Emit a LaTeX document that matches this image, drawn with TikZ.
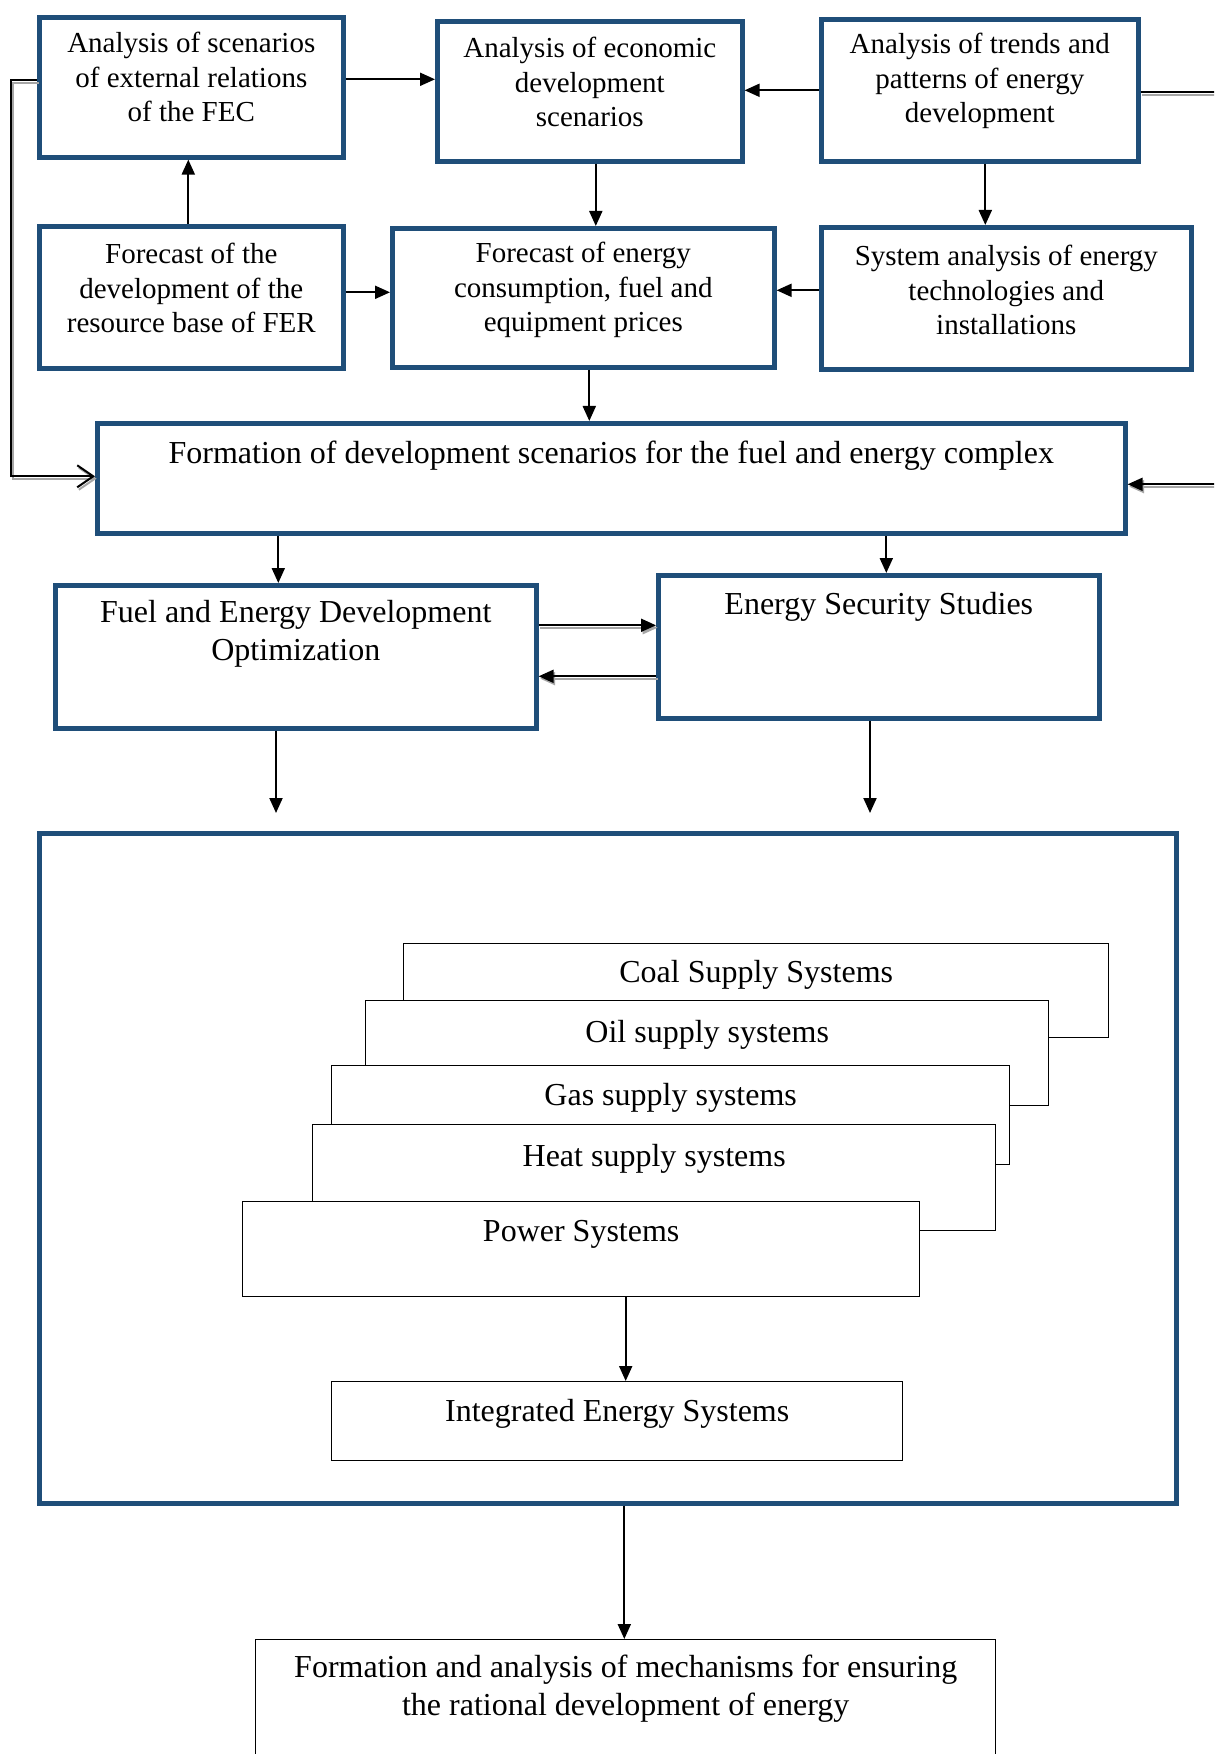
\documentclass[tikz,border=0pt]{standalone}
\usepackage{fontspec}
\setmainfont{Liberation Serif}
\usetikzlibrary{arrows.meta}
\definecolor{fecblue}{RGB}{31,78,121}
\tikzset{
>={Triangle[width=6.5pt,length=7.5pt]},
	bluebox/.style={
		rectangle,
		sharp corners,
		fill=white,
		draw=fecblue, line width=2.3pt,
		anchor=north west,
		inner sep=0pt},
	thinbox/.style={
		rectangle,
		sharp corners,
		fill=white,
		draw=black, line width=0.7pt,
		anchor=north west,
		inner sep=0pt},
	smalltext/.style={align=center, inner sep=0pt, font=\fontsize{14.5}{17.4}\selectfont},
	bigtext/.style={align=center, inner sep=0pt, yshift=-1.5pt, font=\fontsize{16}{19}\selectfont},
	link/.style={->, line width=1pt},
	shadowlink/.style={link, preaction={draw=black!35, line width=1pt, transform canvas={xshift=0.8pt,yshift=-1.2pt}}}
}
\begin{document}
\begin{tikzpicture}[x=0.5pt, y=-0.5pt]
\fill[white] (0,0) rectangle (1214,1754);
\path[use as bounding box] (0,0) rectangle (1214,1754);
\clip (0,0) rectangle (1214,1754);
% top two rows
\node[bluebox, minimum width=152pt, minimum height=70pt] (scen) at (37,15) {};
\node[smalltext] (scentext) at (scen |- 0,77) {Analysis of scenarios\\of external relations\\of the FEC};
\node[bluebox, minimum width=152.5pt, minimum height=70pt] (econ) at (435,19) {};
\node[smalltext] (econtext) at (econ |- 0,82) {Analysis of economic\\development\\scenarios};
\node[bluebox, minimum width=158.5pt, minimum height=71pt] (trend) at (819,17) {};
\node[smalltext] (trendtext) at (trend |- 0,81) {Analysis of trends and\\patterns of energy\\development};
\node[bluebox, minimum width=152pt, minimum height=71pt] (fer) at (37,224) {};
\node[smalltext] (fertext) at (fer |- 0,288) {Forecast of the\\development of the\\resource base of FER};
\node[bluebox, minimum width=191pt, minimum height=69.5pt] (cons) at (390,226) {};
\node[smalltext] (constext) at (cons |- 0,290) {Forecast of energy\\consumption, fuel and\\equipment prices};
\node[bluebox, minimum width=185pt, minimum height=71pt] (tech) at (819,225) {};
\node[smalltext] (techtext) at (tech |- 0,290) {System analysis of energy\\technologies and\\installations};
% scenarios
\node[bluebox, minimum width=514pt, minimum height=55pt] (form) at (95,421) {};
\node[bigtext] (formtext) at (form |- 0,453) {Formation of development scenarios for the fuel and energy complex};
\node[bluebox, minimum width=240.5pt, minimum height=71.5pt] (opt) at (53,583) {};
\node[bigtext] (opttext) at (opt |- 0,631) {Fuel and Energy Development\\Optimization};
\node[bluebox, minimum width=220.5pt, minimum height=71.5pt] (sec) at (656,573) {};
\node[bigtext] (sectext) at (sec |- 0,604) {Energy Security Studies};
\coordinate (optout) at (276,813);
\coordinate (secout) at (870,813);
% systems
\node[bluebox, minimum width=568.5pt, minimum height=335pt] (big) at (37,831) {};
\node[thinbox, minimum width=352.5pt, minimum height=47pt] (coal) at (403,943) {};
\node[bigtext] (coaltext) at (coal |- 0,972) {Coal Supply Systems};
\node[thinbox, minimum width=341.5pt, minimum height=52.5pt] (oil) at (365,1000) {};
\node[bigtext] (oiltext) at (oil |- 0,1032) {Oil supply systems};
\node[thinbox, minimum width=339pt, minimum height=49.5pt] (gas) at (331,1065) {};
\node[bigtext] (gastext) at (gas |- 0,1095) {Gas supply systems};
\node[thinbox, minimum width=341.5pt, minimum height=53pt] (heat) at (312,1124) {};
\node[bigtext] (heattext) at (heat |- 0,1156) {Heat supply systems};
\node[thinbox, minimum width=338.5pt, minimum height=47.5pt] (power) at (242,1201) {};
\node[bigtext] (powertext) at (power |- 0,1231) {Power Systems};
\node[thinbox, minimum width=285.5pt, minimum height=39.5pt] (integ) at (331,1381) {};
\node[bigtext] (integtext) at (integ |- 0,1411) {Integrated Energy Systems};
\node[thinbox, minimum width=370pt, minimum height=80.5pt] (mech) at (255,1639) {};
\node[bigtext] (mechtext) at (mech |- 0,1686) {Formation and analysis of mechanisms for ensuring\\the rational development of energy};
\coordinate (lrim) at (11,0);
\coordinate (rrim) at (1240,0);
% arrows
\draw[link] ([xshift=-1.5pt]fer.north) -- ([xshift=-1.5pt]fer.north |- scen.south);
\draw[link] ([yshift=4pt]scen.east) -- ([yshift=4pt]econ.west |- scen.east);
\draw[link] (trend.west) -- (econ.east |- trend.west);
\draw[link] ([xshift=3pt]econ.south) -- ([xshift=3pt]econ.south |- cons.north);
\draw[link] ([yshift=2.5pt]fer.east) -- ([yshift=2.5pt]cons.west |- fer.east);
\draw[link] ([yshift=4pt]tech.west) -- ([yshift=4pt]cons.east |- tech.west);
\draw[link] ([xshift=2.75pt]trend.south) -- ([xshift=2.75pt]trend.south |- tech.north);
\draw[link] ([xshift=3pt]cons.south) -- ([xshift=3pt]cons.south |- form.north);
\draw[shadowlink, -{Straight Barb[length=8pt,width=11pt]}] ([yshift=3.5pt]scen.west) -- ([yshift=3.5pt]lrim |- scen.west) -- ([yshift=1pt]lrim |- form.west) -- ([yshift=1pt]form.west);
\draw[shadowlink] ([yshift=-1pt]trend.east) -- ([yshift=-1pt]rrim |- trend.east) -- ([yshift=-3pt]rrim |- form.east) -- ([yshift=-3pt]form.east);
\draw[link] ([xshift=-8.75pt]opt.north |- form.south) -- ([xshift=-8.75pt]opt.north);
\draw[link] ([xshift=3.75pt]sec.north |- form.south) -- ([xshift=3.75pt]sec.north);
\draw[shadowlink] ([yshift=15.75pt]opt.east) -- ([yshift=15.75pt]sec.west |- opt.east);
\draw[shadowlink] ([yshift=-14.75pt]sec.west) -- ([yshift=-14.75pt]opt.east |- sec.west);
\draw[link] (opt.south -| optout) -- (optout);
\draw[link] (sec.south -| secout) -- (secout);
\draw[link] ([xshift=22.25pt]power.south) -- ([xshift=22.25pt]power.south |- integ.north);
\draw[link] ([xshift=8.25pt]big.south) -- ([xshift=8.25pt]big.south |- mech.north);
\end{tikzpicture}
\end{document}
